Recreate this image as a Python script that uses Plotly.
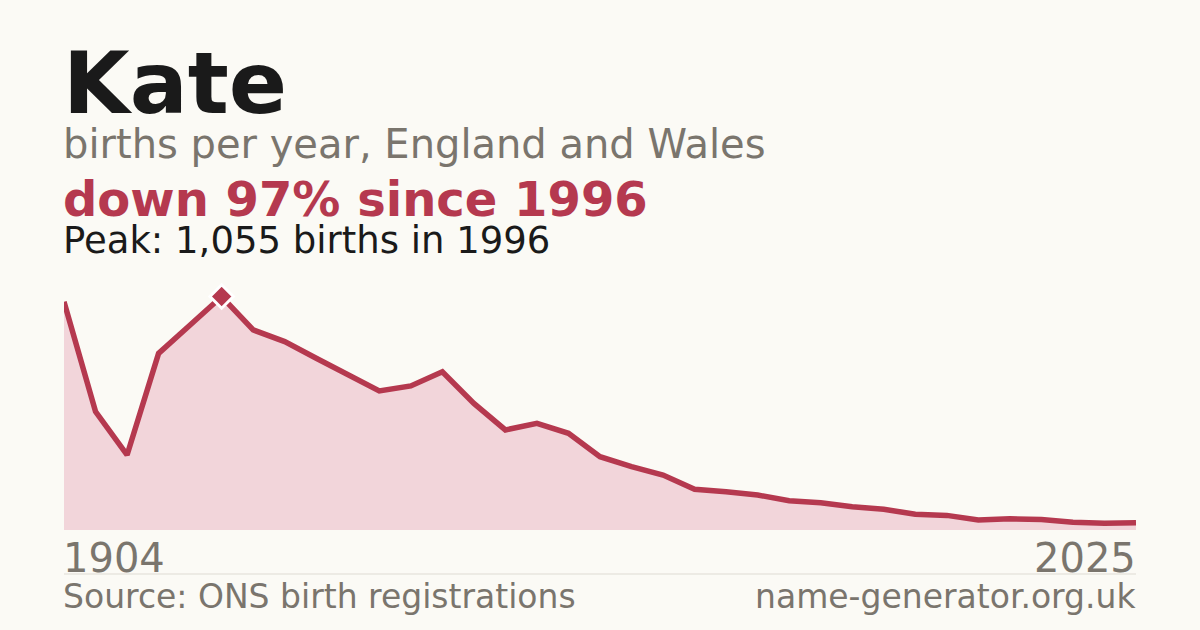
import plotly.graph_objects as go

# births per year for the name Kate
years = ['1904', '1992', '1993', '1994', '1995'] + [str(y) for y in range(1996, 2026)]
births = [1031, 535, 339, 798, 926, 1055, 904, 851, 776, 700,
          628, 651, 715, 572, 452, 482, 437, 331, 286, 248,
          184, 173, 158, 132, 123, 105, 94, 71, 66, 45,
          51, 47, 35, 30, 33]

peak_year = '1996'
peak_births = 1055

BG = '#fbfaf5'
RED = '#b5394f'
GREY = '#7a756d'
FONT = 'DejaVu Sans'


def main():
    fig = go.Figure()

    # shaded area + line
    fig.add_trace(go.Scatter(
        x=years, y=births, mode='lines',
        line=dict(color=RED, width=5.5),
        fill='tozeroy', fillcolor='#f2d5da',
        hoverinfo='skip',
    ))

    # peak marker
    fig.add_trace(go.Scatter(
        x=[peak_year], y=[peak_births], mode='markers',
        marker=dict(symbol='diamond', size=18, color=RED,
                    line=dict(color='white', width=3)),
        hoverinfo='skip',
    ))

    fig.update_layout(
        width=1200, height=630,
        paper_bgcolor=BG, plot_bgcolor=BG,
        margin=dict(l=64, r=64, t=280, b=100),
        showlegend=False,
        font=dict(family=FONT),
        xaxis=dict(type='category', range=[0, len(years) - 1],
                   showgrid=False, zeroline=False, showticklabels=False,
                   fixedrange=True),
        yaxis=dict(range=[0, 1129.5], showgrid=False, zeroline=False,
                   showticklabels=False, fixedrange=True),
    )

    def note(text, x, y, size, color, bold=False, xanchor='left'):
        if bold:
            text = '<b>' + text + '</b>'
        shift = -3 if xanchor == 'left' else 2
        fig.add_annotation(text=text, x=x, y=y, xref='paper', yref='paper',
                           xanchor=xanchor, yanchor='middle', showarrow=False,
                           xshift=shift,
                           font=dict(family=FONT, size=size, color=color))

    note('Kate', 0, 1.788, 86, '#1a1a1a', bold=True)
    note('births per year, England and Wales', 0, 1.543, 40, GREY)
    note('down 97% since 1996', 0, 1.326, 48, RED, bold=True)
    note('Peak: 1,055 births in 1996', 0, 1.159, 37, '#1a1a1a')
    note(years[0], 0, -0.11, 40, GREY)
    note(years[-1], 1, -0.11, 40, GREY, xanchor='right')
    note('Source: ONS birth registrations', 0, -0.266, 33, GREY)
    note('name-generator.org.uk', 1, -0.266, 33, GREY, xanchor='right')

    fig.add_shape(type='line', xref='paper', yref='paper',
                  x0=0, x1=1, y0=-0.176, y1=-0.176,
                  line=dict(color='#dedbd3', width=1))

    # drop the default page margin so the card fills the window
    fig.write_html("out.html", config={'displayModeBar': False},
                   post_script="document.body.style.margin='0';")


if __name__ == '__main__':
    main()
